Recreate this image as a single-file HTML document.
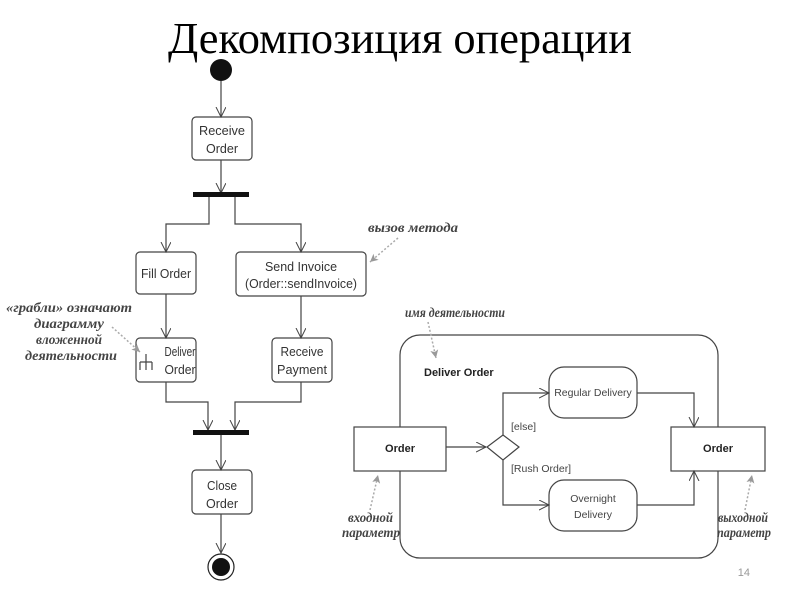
<!DOCTYPE html>
<html><head><meta charset="utf-8"><style>
body{margin:0;background:#fff}
svg{display:block}
.t{font-family:"Liberation Sans",sans-serif;fill:#333;font-size:13px;text-anchor:middle}
.a{font-family:"Liberation Serif","DejaVu Serif",serif;font-style:italic;font-weight:bold;fill:#444;font-size:13.5px}
</style></head><body>
<svg width="800" height="600" viewBox="0 0 800 600" xmlns="http://www.w3.org/2000/svg">
<defs>
<marker id="o" markerWidth="12" markerHeight="12" refX="10" refY="5" orient="auto" markerUnits="userSpaceOnUse"><path d="M0,0 L10,5 L0,10" fill="none" stroke="#444" stroke-width="1"/></marker>
<marker id="g" markerWidth="10" markerHeight="10" refX="8" refY="4" orient="auto" markerUnits="userSpaceOnUse"><path d="M0,0 L8,4 L0,8 L2,4z" fill="#999"/></marker>
</defs>
<text x="400" y="53" text-anchor="middle" font-family="Liberation Serif,serif" font-size="44" fill="#000" textLength="464" lengthAdjust="spacingAndGlyphs">Декомпозиция операции</text>
<g fill="none" stroke="#444" stroke-width="1.2">
<path d="M221,81 V117" marker-end="url(#o)"/>
<rect x="192" y="117" width="60" height="43" rx="4"/>
<path d="M221,160 V193" marker-end="url(#o)"/>
<path d="M209,197 V224 H166 V252" marker-end="url(#o)"/>
<path d="M235,197 V224 H301 V252" marker-end="url(#o)"/>
<rect x="136" y="252" width="60" height="42" rx="4"/>
<rect x="236" y="252" width="130" height="44" rx="4"/>
<path d="M166,294 V338" marker-end="url(#o)"/>
<path d="M301,296 V338" marker-end="url(#o)"/>
<rect x="136" y="338" width="60" height="44" rx="4"/>
<rect x="272" y="338" width="60" height="44" rx="4"/>
<path d="M146,354 V370 M140,362 H152 M140,362 V370 M152,362 V370"/>
<path d="M166,382 V402 H208 V430" marker-end="url(#o)"/>
<path d="M301,382 V402 H235 V430" marker-end="url(#o)"/>
<path d="M221,435 V470" marker-end="url(#o)"/>
<rect x="192" y="470" width="60" height="44" rx="4"/>
<path d="M221,514 V553" marker-end="url(#o)"/>
<rect x="400" y="335" width="318" height="223" rx="20"/>
<rect x="354" y="427" width="92" height="44" fill="#fff"/>
<rect x="671" y="427" width="94" height="44" fill="#fff"/>
<path d="M446,447 H486" marker-end="url(#o)"/>
<path d="M503,435 L519,447 L503,460 L487,447 Z"/>
<path d="M503,435 V393 H549" marker-end="url(#o)"/>
<path d="M503,460 V505 H549" marker-end="url(#o)"/>
<rect x="549" y="367" width="88" height="51" rx="15"/>
<rect x="549" y="480" width="88" height="51" rx="15"/>
<path d="M637,393 H694 V427" marker-end="url(#o)"/>
<path d="M637,505 H694 V471" marker-end="url(#o)"/>
</g>
<rect x="193" y="192" width="56" height="5" fill="#111"/>
<rect x="193" y="430" width="56" height="5" fill="#111"/>
<circle cx="221" cy="70" r="11" fill="#111"/>
<circle cx="221" cy="567" r="13" fill="none" stroke="#222" stroke-width="1.2"/>
<circle cx="221" cy="567" r="9" fill="#111"/>
<g class="t">
<text x="222" y="135" textLength="46" lengthAdjust="spacingAndGlyphs">Receive</text><text x="222" y="153" textLength="32" lengthAdjust="spacingAndGlyphs">Order</text>
<text x="166" y="278" textLength="50" lengthAdjust="spacingAndGlyphs">Fill Order</text>
<text x="301" y="271" textLength="72" lengthAdjust="spacingAndGlyphs">Send Invoice</text><text x="301" y="288" textLength="112" lengthAdjust="spacingAndGlyphs">(Order::sendInvoice)</text>
<text x="180" y="356" textLength="31" lengthAdjust="spacingAndGlyphs">Deliver</text><text x="180" y="374" textLength="31" lengthAdjust="spacingAndGlyphs">Order</text>
<text x="302" y="356" textLength="43" lengthAdjust="spacingAndGlyphs">Receive</text><text x="302" y="374" textLength="50" lengthAdjust="spacingAndGlyphs">Payment</text>
<text x="222" y="490" textLength="30" lengthAdjust="spacingAndGlyphs">Close</text><text x="222" y="508" textLength="32" lengthAdjust="spacingAndGlyphs">Order</text>
</g>
<g font-family="Liberation Sans,sans-serif" fill="#222" font-size="11">
<text x="400" y="452" text-anchor="middle" font-weight="bold">Order</text>
<text x="718" y="452" text-anchor="middle" font-weight="bold">Order</text>
<text x="424" y="376" font-weight="bold">Deliver Order</text>
<text x="593" y="396" text-anchor="middle" fill="#444" font-size="10.5">Regular Delivery</text>
<text x="593" y="502" text-anchor="middle" fill="#444" font-size="10.5">Overnight</text>
<text x="593" y="518" text-anchor="middle" fill="#444" font-size="10.5">Delivery</text>
<text x="511" y="430" fill="#444" font-size="10.5">[else]</text>
<text x="511" y="472" fill="#444" font-size="10.5">[Rush Order]</text>
<text x="750" y="576" fill="#999" font-size="11" text-anchor="end">14</text>
</g>
<g class="a">
<text x="368" y="232" textLength="90" lengthAdjust="spacingAndGlyphs">вызов метода</text>
<text x="132" y="312" text-anchor="end" textLength="126" lengthAdjust="spacingAndGlyphs">«грабли» означают</text>
<text x="104" y="328" text-anchor="end" textLength="70" lengthAdjust="spacingAndGlyphs">диаграмму</text>
<text x="102" y="344" text-anchor="end" textLength="66" lengthAdjust="spacingAndGlyphs">вложенной</text>
<text x="117" y="360" text-anchor="end" textLength="92" lengthAdjust="spacingAndGlyphs">деятельности</text>
<text x="405" y="317" textLength="100" lengthAdjust="spacingAndGlyphs">имя деятельности</text>
<text x="348" y="522" textLength="45" lengthAdjust="spacingAndGlyphs">входной</text><text x="342" y="537" textLength="58" lengthAdjust="spacingAndGlyphs">параметр</text>
<text x="718" y="522" textLength="50" lengthAdjust="spacingAndGlyphs">выходной</text><text x="717" y="537" textLength="54" lengthAdjust="spacingAndGlyphs">параметр</text>
</g>
<g fill="none" stroke="#aaa" stroke-width="1.5" stroke-dasharray="2,2">
<path d="M398,238 L370,262" marker-end="url(#g)"/>
<path d="M112,327 L140,352" marker-end="url(#g)"/>
<path d="M428,322 L436,358" marker-end="url(#g)"/>
<path d="M370,510 L378,475" marker-end="url(#g)"/>
<path d="M745,510 L752,475" marker-end="url(#g)"/>
</g>
</svg>
</body></html>
